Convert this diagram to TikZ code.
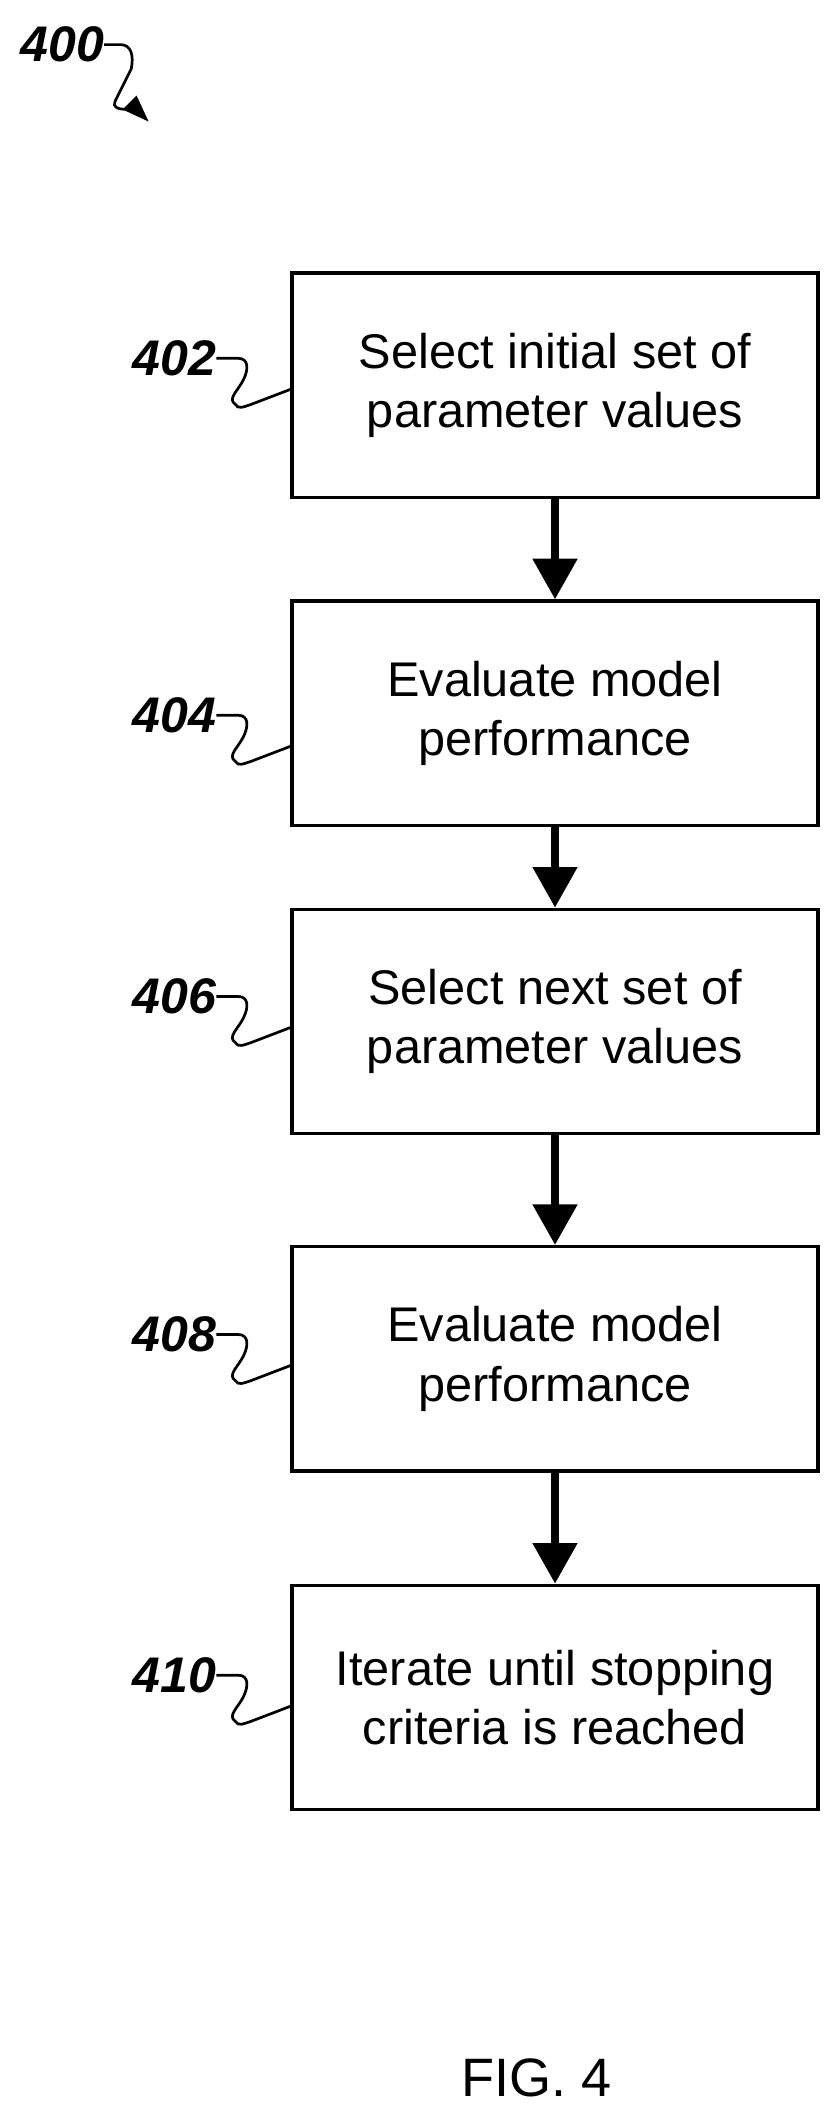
\documentclass[tikz,border=0pt]{standalone}
\usepackage{fontspec}
\setmainfont{Liberation Sans}
\usetikzlibrary{arrows.meta,positioning}

\begin{document}
\begin{tikzpicture}[x=1pt,y=-1pt,
  stepbox/.style={draw,line width=2.5pt,minimum width=389pt,minimum height=166pt,
    align=center,font=\fontsize{36}{44}\selectfont},
  flow/.style={-{Triangle[width=32pt,length=30pt]},line width=5.5pt},
  ref/.style={font=\fontsize{37}{37}\selectfont\bfseries\itshape,inner sep=0pt},
  squig/.style={line width=2pt}]

  \useasboundingbox (0,0) rectangle (620,1568);

  \node[stepbox] (b402) at (410.5,285) {Select initial set of\\parameter values};
  \node[stepbox] (b404) at (410.5,527.5) {Evaluate model\\performance};
  \node[stepbox] (b406) at (410.5,755.5) {Select next set of\\parameter values};
  \node[stepbox] (b408) at (410.5,1005) {Evaluate model\\performance};
  \node[stepbox] (b410) at (410.5,1255.5) {Iterate until stopping\\criteria is reached};

  \draw[flow] (b402) -- (b404);
  \draw[flow] (b404) -- (b406);
  \draw[flow] (b406) -- (b408);
  \draw[flow] (b408) -- (b410);

  % reference numerals
  \foreach \n/\y in {402/265,404/529,406/737,408/987,410/1239}{
    \node[ref,anchor=east] (l\n) at (160,\y) {\n};
    \coordinate (e\n) at (0,\y+23);
    \draw[squig] (l\n.east) -- ++(16,0) .. controls ++(8,0) and ++(4,-8) .. ++(4,16)
      .. controls ++(-4,8) and ++(-6,-4) .. ++(-6,18) .. controls ++(2,4) and ++(-6,2) .. ++(12,0)
      -- (b\n.west |- e\n);
  }

  \node[ref] (l400) at (46,33) {400};
  \coordinate (c400) at (110,90);
  \draw[squig,-{Triangle[width=14pt,length=20pt]}] (l400.east) -- ++(12,0)
    .. controls ++(8,0) and ++(2,-10) .. ++(8,18) -- ++(-12,24)
    .. controls ++(-4,8) and ++(-8,-8) .. (c400);

  \node[font=\fontsize{40}{40}\selectfont] (fig) at (397,1537) {FIG. 4};
\end{tikzpicture}
\end{document}
